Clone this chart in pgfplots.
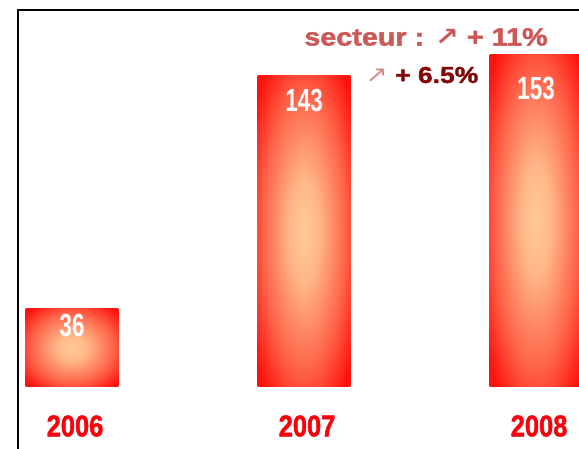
\documentclass[border=0pt]{standalone}
\usepackage{pgfplots}
\pgfplotsset{compat=1.18}
\usepackage{graphicx}
\usepackage{fontspec}
\setmainfont{Liberation Sans}
\newfontfamily\arrowfont{DejaVu Sans}
\newfontfamily\heavyfont[BoldFeatures={FakeBold=1.5}]{Liberation Sans}

\definecolor{barred}{RGB}{255,18,12}
\definecolor{barpeach}{RGB}{255,202,150}
\definecolor{yearred}{RGB}{250,0,10}
\definecolor{secteur}{RGB}{204,88,88}
\definecolor{darkred}{RGB}{128,8,8}
\definecolor{arrowpink}{RGB}{214,140,140}

\pgfdeclareradialshading{barglow}{\pgfpoint{0bp}{0bp}}{%
  color(0bp)=(barpeach);
  color(8bp)=(barpeach!90!barred);
  color(22bp)=(barred!55!barpeach);
  color(33bp)=(barred);
  color(50bp)=(barred)}

\pgfplotsset{glowbar/.style={ybar, bar shift=0pt, bar width=0.4, draw=none, shading=barglow}}

\begin{document}
\begin{tikzpicture}[x=1pt,y=1pt]
  \useasboundingbox (0,0) rectangle (579,449);
  \begin{axis}[
      at={(18pt,0pt)},
      anchor=south west,
      scale only axis,
      width=561pt,
      height=439pt,
      xmin=-0.2328, xmax=2.185,
      ymin=-28.5, ymax=173.3,
      axis line style={draw=none},
      ytick=\empty,
      xtick={0,1,2},
      xticklabels={\scalebox{0.85}[1]{2006},\scalebox{0.85}[1]{2007},\scalebox{0.85}[1]{2008}},
      major tick length=0pt,
      xticklabel style={font=\fontsize{30}{30}\selectfont\heavyfont\bfseries,
        text=yearred, anchor=center, yshift=23pt, xshift=3pt},
      nodes near coords={\scalebox{0.7}[1]{\pgfmathprintnumber[assume math mode=true]{\pgfplotspointmeta}}},
      every node near coord/.append style={font=\fontsize{32}{32}\selectfont\bfseries,
        text=white, anchor=center},
    ]
    \addplot[glowbar, every node near coord/.append style={yshift=-17pt}] coordinates {(0,36)};
    \addplot[glowbar, every node near coord/.append style={yshift=-25pt}] coordinates {(1,143)};
    \addplot[glowbar, every node near coord/.append style={yshift=-34pt}] coordinates {(2,153)};
  \end{axis}
  % frame (left and top edges only)
  \draw[line width=2pt, black] (18,0) -- (18,439) -- (580,439);
  % annotations
  \node[text=secteur, font=\fontsize{25}{25}\selectfont\heavyfont\bfseries] at (426,412)
    {\scalebox{1.15}[1]{secteur : {\arrowfont ↗} + 11\%}};
  \node[text=darkred, font=\fontsize{23}{23}\selectfont\heavyfont\bfseries] at (422,374)
    {\scalebox{1.15}[1]{{\arrowfont\mdseries\color{arrowpink}↗} + 6.5\%}};
\end{tikzpicture}
\end{document}
